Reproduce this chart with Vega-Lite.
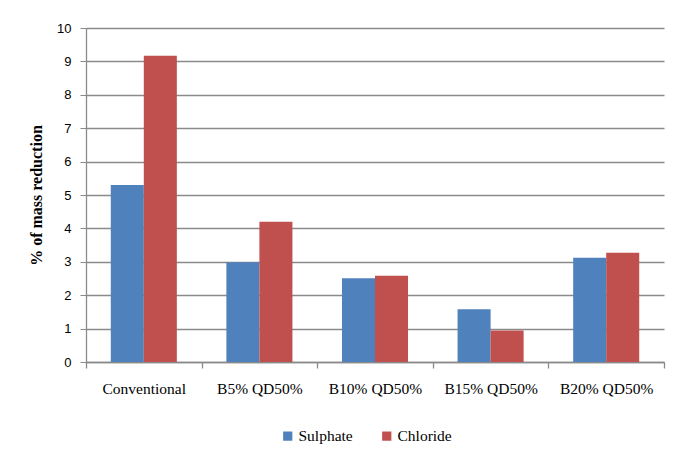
{
  "$schema": "https://vega.github.io/schema/vega-lite/v6.json",
  "width": 578,
  "height": 334,
  "autosize": {"type": "none"},
  "padding": {"left": 86, "top": 28, "right": 12, "bottom": 95},
  "background": "white",
  "data": {
    "values": [
      {"cat": "Conventional", "series": "Sulphate", "value": 5.30},
      {"cat": "Conventional", "series": "Chloride", "value": 9.17},
      {"cat": "B5% QD50%", "series": "Sulphate", "value": 2.99},
      {"cat": "B5% QD50%", "series": "Chloride", "value": 4.20},
      {"cat": "B10% QD50%", "series": "Sulphate", "value": 2.51},
      {"cat": "B10% QD50%", "series": "Chloride", "value": 2.58},
      {"cat": "B15% QD50%", "series": "Sulphate", "value": 1.58},
      {"cat": "B15% QD50%", "series": "Chloride", "value": 0.94},
      {"cat": "B20% QD50%", "series": "Sulphate", "value": 3.12},
      {"cat": "B20% QD50%", "series": "Chloride", "value": 3.27}
    ]
  },
  "mark": {"type": "bar"},
  "encoding": {
    "x": {
      "field": "cat",
      "type": "nominal",
      "sort": ["Conventional", "B5% QD50%", "B10% QD50%", "B15% QD50%", "B20% QD50%"],
      "scale": {"paddingInner": 0, "paddingOuter": 0},
      "axis": {
        "title": null,
        "labelAngle": 0,
        "tickBand": "extent",
        "grid": false,
        "domainColor": "#8a8a8a",
        "domainWidth": 1.3,
        "tickColor": "#8a8a8a",
        "tickWidth": 1.3,
        "tickSize": 6,
        "labelPadding": 13,
        "labelFont": "Liberation Serif",
        "labelFontSize": 15.5,
        "labelColor": "#000000"
      }
    },
    "xOffset": {
      "field": "series",
      "type": "nominal",
      "sort": ["Sulphate", "Chloride"],
      "scale": {"paddingInner": 0, "paddingOuter": 0.75}
    },
    "y": {
      "field": "value",
      "type": "quantitative",
      "scale": {"domain": [0, 10], "nice": false},
      "axis": {
        "title": "% of mass reduction",
        "titleFont": "Liberation Serif",
        "titleFontSize": 16,
        "titleFontWeight": "bold",
        "titleColor": "#000000",
        "titlePadding": 12,
        "values": [0, 1, 2, 3, 4, 5, 6, 7, 8, 9, 10],
        "grid": true,
        "gridColor": "#8a8a8a",
        "gridWidth": 1.3,
        "domainColor": "#8a8a8a",
        "domainWidth": 1.3,
        "tickColor": "#8a8a8a",
        "tickSize": 6,
        "labelPadding": 9,
        "labelFont": "Liberation Sans",
        "labelFontSize": 13,
        "labelColor": "#000000"
      }
    },
    "color": {
      "field": "series",
      "type": "nominal",
      "sort": ["Sulphate", "Chloride"],
      "scale": {"domain": ["Sulphate", "Chloride"], "range": ["#4F81BD", "#C0504D"]},
      "legend": {
        "title": null,
        "orient": "none",
        "direction": "horizontal",
        "legendX": 194,
        "legendY": 400,
        "symbolType": "square",
        "symbolSize": 85,
        "symbolStrokeWidth": 0,
        "symbolOpacity": 1,
        "labelFont": "Liberation Serif",
        "labelFontSize": 15.5,
        "labelColor": "#000000",
        "labelOffset": 3,
        "columnPadding": 26
      }
    }
  },
  "config": {
    "view": {"stroke": null}
  }
}
